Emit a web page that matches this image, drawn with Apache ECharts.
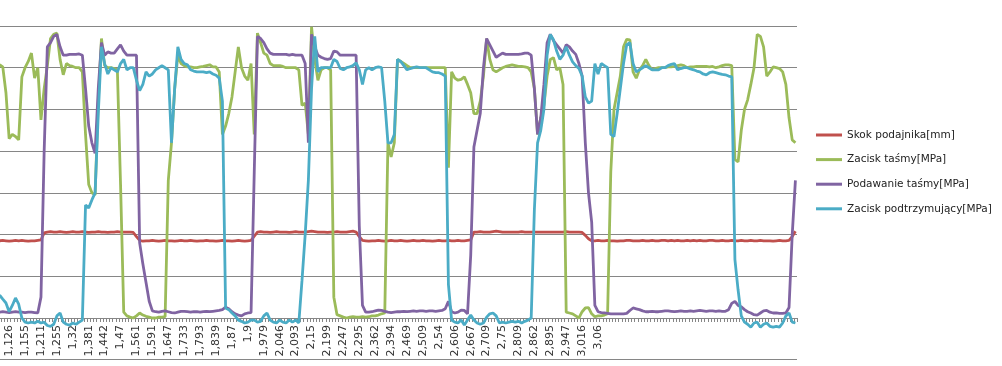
<!DOCTYPE html>
<html><head><meta charset="utf-8">
<script src="https://cdn.jsdelivr.net/npm/echarts@6/dist/echarts.min.js"></script>
<style>html,body{margin:0;padding:0;background:#fff}#c{width:1002px;height:366px}</style>
</head><body><div id="c"></div>
<script>
const tickLabels = ['1,126','1,155','1,211','1,255','1,32','1,381','1,442','1,47','1,561','1,591','1,647','1,733','1,793','1,839','1,87','1,9','1,979','2,046','2,093','2,15','2,199','2,247','2,295','2,362','2,394','2,469','2,509','2,54','2,606','2,667','2,709','2,75','2,809','2,862','2,895','2,947','3,016','3,06'];
const seriesNames = ['Skok podajnika[mm]','Zacisk taśmy[MPa]','Podawanie taśmy[MPa]','Zacisk podtrzymujący[MPa]'];
const skok = [
1.85,1.86,1.85,1.84,1.85,1.86,1.85,1.86,1.85,1.84,
1.85,1.85,1.86,1.87,2.04,2.06,2.07,2.06,2.06,2.07,
2.06,2.05,2.06,2.07,2.06,2.06,2.07,2.06,2.05,2.06,
2.06,2.07,2.06,2.06,2.05,2.06,2.06,2.07,2.06,2.06,
2.06,2.06,2.05,1.95,1.86,1.84,1.85,1.85,1.86,1.85,
1.84,1.85,1.86,1.85,1.85,1.84,1.85,1.86,1.85,1.85,
1.86,1.85,1.84,1.85,1.85,1.86,1.85,1.85,1.84,1.85,
1.86,1.85,1.85,1.84,1.85,1.86,1.85,1.84,1.85,1.86,
1.96,2.06,2.07,2.06,2.06,2.05,2.06,2.07,2.06,2.06,
2.06,2.05,2.06,2.07,2.06,2.06,2.06,2.07,2.08,2.07,
2.06,2.06,2.06,2.05,2.06,2.06,2.07,2.06,2.06,2.06,
2.07,2.08,2.06,1.95,1.86,1.85,1.84,1.85,1.85,1.86,
1.85,1.84,1.85,1.86,1.85,1.85,1.86,1.85,1.84,1.85,
1.86,1.85,1.85,1.86,1.85,1.85,1.84,1.85,1.86,1.85,
1.85,1.86,1.85,1.85,1.86,1.85,1.85,1.86,1.87,2.06,
2.06,2.07,2.06,2.06,2.06,2.07,2.08,2.07,2.06,2.06,
2.06,2.06,2.06,2.06,2.07,2.06,2.06,2.06,2.06,2.06,
2.06,2.06,2.06,2.06,2.06,2.06,2.06,2.06,2.07,2.06,
2.06,2.06,2.06,2.05,1.98,1.90,1.85,1.85,1.86,1.85,
1.85,1.86,1.85,1.85,1.84,1.85,1.85,1.86,1.86,1.85,
1.85,1.85,1.86,1.85,1.85,1.86,1.85,1.85,1.86,1.86,
1.85,1.86,1.85,1.86,1.85,1.85,1.86,1.85,1.86,1.85,
1.86,1.85,1.85,1.86,1.86,1.85,1.85,1.86,1.85,1.85,
1.86,1.85,1.85,1.86,1.85,1.85,1.86,1.85,1.85,1.86,
1.85,1.85,1.85,1.84,1.85,1.86,1.85,1.85,1.86,1.95,
2.08];
const zaciskTasmy = [
6.07,6.02,5.40,4.30,4.40,4.35,4.27,5.78,6.00,6.15,
6.35,5.75,6.00,4.75,5.50,6.05,6.70,6.80,6.83,6.20,
5.83,6.10,6.05,6.03,6.00,6.00,5.90,4.40,3.20,3.00,
2.95,5.20,6.70,6.05,6.00,6.00,5.98,5.95,3.20,0.14,
0.05,0.02,0.00,0.05,0.12,0.07,0.04,0.02,0.00,0.00,
0.02,0.02,0.03,3.30,4.20,5.50,6.30,6.10,6.05,6.02,
6.02,6.00,6.00,6.02,6.03,6.05,6.07,6.02,6.02,5.90,
4.40,4.60,4.90,5.30,5.90,6.50,6.00,5.80,5.70,6.10,
4.40,6.83,6.60,6.35,6.30,6.10,6.05,6.05,6.05,6.03,
6.00,6.00,6.00,6.00,5.95,5.10,5.15,4.40,6.98,6.20,
5.70,5.95,6.00,6.00,5.95,0.50,0.08,0.05,0.02,0.00,
0.02,0.03,0.02,0.02,0.03,0.02,0.03,0.05,0.05,0.07,
0.10,0.12,4.20,3.86,4.20,6.20,6.15,6.10,6.05,6.00,
6.00,6.00,6.00,6.00,6.00,6.00,6.00,6.00,6.00,6.00,
6.00,3.60,5.90,5.75,5.70,5.72,5.78,5.60,5.40,4.90,
4.90,5.20,5.80,6.70,6.20,5.95,5.90,5.95,6.00,6.03,
6.05,6.07,6.05,6.03,6.03,6.02,6.00,5.90,5.50,4.40,
4.80,5.10,5.80,6.20,6.24,5.95,6.00,5.60,0.14,0.12,
0.10,0.05,0.00,0.15,0.24,0.25,0.10,0.03,0.05,0.05,
0.07,0.10,3.50,5.00,5.40,5.80,6.50,6.68,6.67,5.90,
5.75,5.95,6.05,6.20,6.05,5.95,5.98,6.00,6.00,6.00,
6.02,6.02,6.03,6.05,6.07,6.05,6.00,6.02,6.02,6.03,
6.03,6.03,6.03,6.02,6.03,6.00,6.02,6.05,6.07,6.07,
6.05,3.80,3.74,4.50,5.00,5.23,5.60,6.00,6.80,6.75,
6.50,5.80,5.90,6.02,6.00,5.98,5.90,5.60,4.80,4.27,
4.20];
const podawanieTasmy = [
0.14,0.15,0.14,0.13,0.14,0.15,0.14,0.14,0.13,0.14,
0.14,0.13,0.12,0.50,4.00,6.50,6.60,6.75,6.80,6.50,
6.30,6.30,6.32,6.32,6.32,6.33,6.30,5.50,4.60,4.20,
3.95,5.50,6.60,6.30,6.38,6.35,6.35,6.45,6.55,6.40,
6.30,6.30,6.30,6.30,1.80,1.30,0.85,0.40,0.17,0.15,
0.14,0.16,0.17,0.15,0.13,0.12,0.14,0.16,0.16,0.15,
0.14,0.15,0.15,0.14,0.15,0.16,0.15,0.16,0.17,0.18,
0.20,0.26,0.22,0.15,0.10,0.07,0.05,0.10,0.12,0.13,
3.50,6.75,6.70,6.60,6.45,6.35,6.32,6.32,6.32,6.32,
6.32,6.30,6.32,6.30,6.30,6.30,6.10,4.20,6.80,6.50,
6.30,6.25,6.22,6.20,6.22,6.40,6.38,6.30,6.30,6.30,
6.30,6.30,6.30,2.20,0.30,0.14,0.14,0.15,0.17,0.19,
0.18,0.16,0.14,0.13,0.14,0.15,0.15,0.16,0.15,0.16,
0.17,0.16,0.17,0.17,0.16,0.17,0.17,0.16,0.17,0.18,
0.22,0.40,0.15,0.12,0.14,0.19,0.18,0.10,1.50,4.10,
4.50,4.90,6.00,6.70,6.55,6.40,6.25,6.30,6.35,6.32,
6.32,6.32,6.32,6.32,6.33,6.35,6.35,6.30,5.50,4.40,
4.80,5.60,6.60,6.80,6.65,6.55,6.45,6.35,6.55,6.50,
6.40,6.32,6.10,5.80,4.20,3.00,2.30,0.30,0.15,0.13,
0.12,0.11,0.10,0.10,0.10,0.10,0.10,0.11,0.18,0.24,
0.22,0.20,0.17,0.15,0.15,0.16,0.15,0.15,0.16,0.17,
0.17,0.16,0.15,0.16,0.17,0.16,0.16,0.17,0.16,0.17,
0.18,0.17,0.16,0.17,0.17,0.16,0.17,0.16,0.16,0.20,
0.35,0.40,0.30,0.27,0.20,0.15,0.12,0.08,0.07,0.12,
0.17,0.18,0.14,0.12,0.12,0.11,0.11,0.12,0.25,2.00,
3.30];
const zaciskPodtrz = [
0.55,0.45,0.36,0.15,0.30,0.48,0.33,0.00,-0.10,-0.12,
-0.10,-0.12,-0.08,-0.12,-0.10,-0.18,-0.20,-0.15,0.05,0.12,
-0.10,-0.15,-0.17,-0.12,-0.15,-0.10,-0.05,2.71,2.64,2.83,
3.00,4.90,6.50,6.10,5.85,6.00,5.95,5.90,6.10,6.20,
5.95,6.00,6.00,5.70,5.45,5.60,5.90,5.80,5.85,5.95,
6.00,6.05,6.00,5.95,4.20,5.50,6.50,6.20,6.10,6.07,
5.95,5.92,5.90,5.90,5.90,5.88,5.90,5.85,5.82,5.75,
5.20,0.24,0.20,0.12,0.05,-0.05,-0.08,-0.12,-0.10,-0.05,
-0.05,-0.10,-0.08,0.05,0.12,-0.05,-0.10,-0.12,-0.05,-0.10,
-0.12,-0.05,-0.10,-0.05,-0.12,0.90,2.00,3.30,5.50,6.75,
5.90,6.00,6.00,6.00,6.00,6.20,6.15,5.98,5.95,6.00,
6.02,6.05,6.12,5.95,5.60,5.95,6.00,5.95,6.00,6.02,
6.00,5.20,4.20,4.20,4.40,6.20,6.15,6.05,5.95,5.98,
6.00,6.02,6.00,6.00,6.00,5.95,5.90,5.88,5.88,5.85,
5.80,0.80,-0.05,-0.10,-0.12,-0.05,-0.17,-0.05,0.07,-0.05,
-0.12,-0.15,-0.12,0.02,0.10,0.12,0.05,-0.12,-0.10,-0.12,
-0.10,-0.08,-0.10,-0.08,-0.12,-0.08,-0.05,0.00,2.60,4.20,
4.50,5.00,6.30,6.80,6.67,6.40,6.20,6.30,6.50,6.30,
6.14,6.05,5.98,5.80,5.30,5.15,5.20,6.10,5.85,6.10,
6.05,6.00,4.40,4.35,4.90,5.50,6.10,6.55,6.60,6.10,
5.90,5.95,6.00,6.05,6.00,5.95,5.95,5.95,6.00,6.00,
6.05,6.08,6.10,5.95,5.98,6.00,6.00,5.97,5.95,5.92,
5.90,5.85,5.83,5.88,5.90,5.88,5.86,5.84,5.83,5.80,
5.78,1.40,0.67,0.05,-0.10,-0.15,-0.22,-0.12,-0.10,-0.22,
-0.15,-0.12,-0.20,-0.22,-0.20,-0.22,-0.12,0.05,0.12,-0.10,
-0.12];
const colors = ['#C0504D','#9BBB59','#8064A2','#4BACC6'];

const N = skok.length;
const firstLabelIdx = 3, labelStep = 5;
const categories = [];
for (let i = 0; i < N; i++) {
  const k = (i - firstLabelIdx) / labelStep;
  categories.push(Number.isInteger(k) && k >= 0 && k < tickLabels.length ? tickLabels[k] : '');
}
const allData = [skok, zaciskTasmy, podawanieTasmy, zaciskPodtrz];

const gridTop = 26, gridBottom = 6.3, yMin = -1, yMax = 7;
const plotH = 366 - gridTop - gridBottom;
const zeroOffset = -plotH * (0 - yMin) / (yMax - yMin);

const chart = echarts.init(document.getElementById('c'), null, {renderer: 'canvas'});
chart.setOption({
  animation: false,
  backgroundColor: '#fff',
  grid: {left: -2, right: 205, top: gridTop, bottom: gridBottom, containLabel: false, outerBoundsMode: 'none'},
  legend: {
    orient: 'vertical', left: 811, top: 123, padding: 5, itemWidth: 26, itemHeight: 3, itemGap: 10.6,
    icon: 'rect',
    textStyle: {fontFamily: 'DejaVu Sans', fontSize: 10.5, color: '#222', lineHeight: 14},
    data: seriesNames
  },
  xAxis: {
    type: 'category', data: categories, boundaryGap: true, position: 'bottom', offset: zeroOffset,
    axisLine: {onZero: false, lineStyle: {color: '#868686', width: 1}},
    axisTick: {show: true, interval: 0, length: 4, lineStyle: {color: '#868686'}},
    axisLabel: {interval: 0, rotate: 90, margin: 7, fontFamily: 'DejaVu Sans', fontSize: 11, color: '#333'},
    splitLine: {show: false}
  },
  yAxis: {
    type: 'value', min: yMin, max: yMax, interval: 1,
    axisLabel: {show: false}, axisLine: {show: false}, axisTick: {show: false},
    splitLine: {show: true, lineStyle: {color: '#868686', width: 1}}
  },
  series: allData.map((d, i) => ({
    name: seriesNames[i], type: 'line', data: d, symbol: 'none', showSymbol: false,
    lineStyle: {color: colors[i], width: 2.8}, itemStyle: {color: colors[i]}
  }))
});
</script></body></html>
